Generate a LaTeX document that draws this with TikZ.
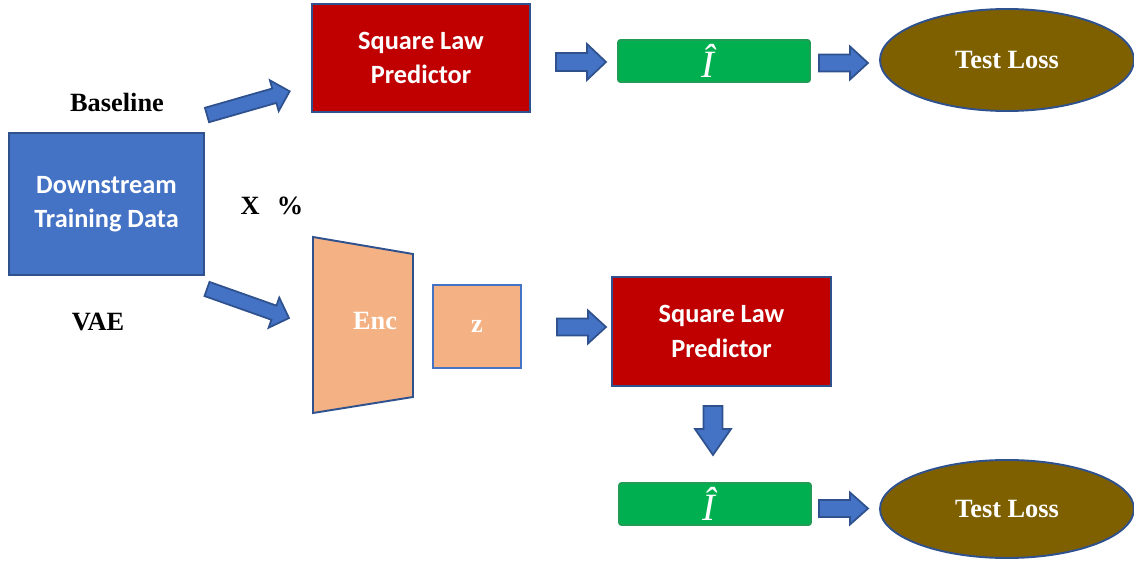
\documentclass[tikz,border=0pt]{standalone}
\usepackage{fontspec}
\setmainfont{Liberation Serif}
\newfontfamily\calib{Carlito}
\usetikzlibrary{shapes.geometric}
\definecolor{pblue}{HTML}{4472C4}
\definecolor{pdark}{HTML}{2F528F}
\definecolor{pred}{HTML}{C00000}
\definecolor{pgreen}{HTML}{00B050}
\definecolor{pgreenb}{HTML}{1F9D55}
\definecolor{ppeach}{HTML}{F4B183}
\definecolor{polive}{HTML}{7F6000}
% #1 name, #2 tail centre, #3 angle, #4 length, #5 head length, #6 shaft half width, #7 head half width
\newcommand{\barr}[7]{%
  \begin{scope}[shift={(#2)},rotate=#3]
    \draw[blockarr] (0,-#6)--({#4-#5},-#6)--({#4-#5},-#7)--(#4,0)--({#4-#5},#7)--({#4-#5},#6)--(0,#6)--cycle;
    \coordinate (#1) at (#4,0);
  \end{scope}}
\begin{document}
\begin{tikzpicture}[x=0.02cm,y=-0.02cm,
  box/.style={draw=pdark, line width=1.1pt, text=white, align=center, inner sep=0pt,
    font=\calib\bfseries\fontsize{15}{18.5}\selectfont},
  ser/.style={font=\bfseries\fontsize{15}{18}\selectfont, inner sep=0pt},
  hatbox/.style={fill=pgreen, draw=pgreenb, line width=1.1pt, rounded corners=1.5pt,
    minimum width=3.84cm, minimum height=0.84cm, inner sep=0pt, text=white,
    font=\itshape\fontsize{22}{22}\selectfont},
  lossell/.style={ellipse, fill=polive, draw=pdark, line width=1.1pt, text=white,
    font=\bfseries\fontsize{15}{18}\selectfont, inner sep=0pt},
  peach/.style={fill=ppeach, line width=1.1pt},
  blockarr/.style={fill=pblue, draw=pdark, line width=1pt, line join=miter}]
\useasboundingbox (0,0) rectangle (1134,564);

% input data
\node[box, fill=pblue, minimum width=3.9cm, minimum height=2.84cm] (ds) at (106.5,204) {Downstream\\[1pt]Training Data};

% labels
\node[ser] (lbase) at (117,102) {Baseline};
\node[ser] (lx) at (272,206) {X\hspace{0.65em}\%};
\node[ser] (lvae) at (98,322) {VAE};

% baseline branch
\node[box, fill=pred, minimum width=4.36cm, minimum height=2.16cm] (slp1) at (421,58) {Square Law\\[1pt]Predictor};
\node[hatbox] (ih1) at (714,61) {Î\hspace*{0.3em}};
\node[lossell, minimum width=5.08cm, minimum height=2.04cm] (tl1) at (1007,60) {Test Loss};

% VAE branch
\draw[peach, draw=pdark] (313,237)--(413,254)--(413,397)--(313,413)--cycle;
\node[text=white, font=\bfseries\fontsize{15}{18}\selectfont, inner sep=0pt] (enc) at (375,321) {Enc};
\node[peach, draw=pblue, minimum width=1.76cm, minimum height=1.66cm, inner sep=0pt,
  text=white, font=\bfseries\fontsize{15}{18}\selectfont] (z) at (477,326.5) {\raisebox{-3pt}{z}};
\node[box, fill=pred, minimum width=4.38cm, minimum height=2.18cm] (slp2) at (721.5,331.5) {Square Law\\[1pt]Predictor};
\node[hatbox] (ih2) at (715,504) {Î\hspace*{0.3em}};
\node[lossell, minimum width=5.08cm, minimum height=1.96cm] (tl2) at (1007,509) {Test Loss};

% block arrows
\barr{a1}{207,115}{16}{86}{16}{7.5}{16}
\barr{a2}{207,289}{-19.5}{87}{16}{7.5}{16}
\barr{a3}{556,62}{0}{50}{19}{9}{18}
\barr{a4}{819,63}{0}{49}{18}{8.5}{16.5}
\barr{a5}{557,327}{0}{49}{18}{8.5}{16.5}
\barr{a6}{713,406}{-90}{49}{26}{9.5}{18}
\barr{a7}{819,508.5}{0}{49}{18}{8.5}{16}
\end{tikzpicture}
\end{document}
